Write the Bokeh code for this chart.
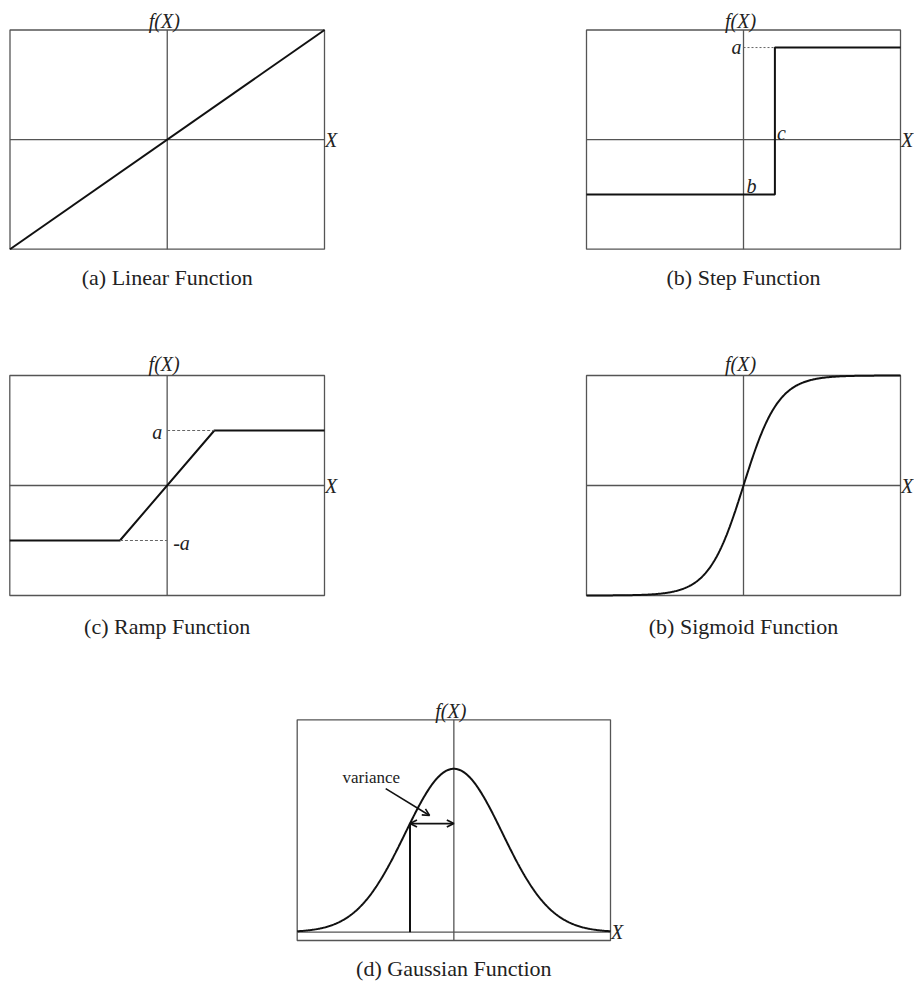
import numpy as np
from bokeh.plotting import figure
from bokeh.layouts import column, row
from bokeh.models import Range1d, Arrow, OpenHead
from bokeh.core.properties import value
from bokeh.embed import file_html
from bokeh.resources import INLINE

# ---- function parameters -------------------------------------------------
linear_x = [-1.0, 1.0]
linear_y = [-1.0, 1.0]

step_c = 0.2          # threshold position
step_a = 0.84         # upper level
step_b = -0.5         # lower level

ramp_a = 0.5          # saturation level
ramp_x = [-1.0, -0.3, 0.3, 1.0]
ramp_y = [-0.5, -0.5, 0.5, 0.5]

sigmoid_k = 4.5       # steepness of the tanh-shaped sigmoid

gauss_sigma = 0.31
variance_x = -0.28    # position of the marked spread

captions = ["(a) Linear Function", "(b) Step Function", "(c) Ramp Function",
            "(b) Sigmoid Function", "(d) Gaussian Function"]

SERIF = value("Liberation Serif")
FRAME = "#555555"
CURVE = "#111111"
INK = "#222222"


def panel(W, H, box, xlim, ylim):
    """Figure whose frame fills the canvas; box (l, t, r, b) in pixels maps to xlim/ylim."""
    l, t, r, b = box
    sx = (r - l) / (xlim[1] - xlim[0])
    sy = (b - t) / (ylim[1] - ylim[0])
    x0 = xlim[0] - l / sx
    y1 = ylim[1] + t / sy
    p = figure(width=W, height=H, output_backend="svg", toolbar_location=None,
               x_range=Range1d(x0, x0 + W / sx), y_range=Range1d(y1 - H / sy, y1),
               min_border=0, outline_line_color=None)
    p.axis.visible = False
    p.grid.visible = False
    p.background_fill_color = "white"
    p.border_fill_color = "white"
    p.quad(left=[xlim[0]], right=[xlim[1]], bottom=[ylim[0]], top=[ylim[1]],
           fill_color=None, line_color=FRAME, line_width=1.3)
    p.segment(x0=[0], y0=[ylim[0]], x1=[0], y1=[ylim[1]], line_color=FRAME, line_width=1.3)
    p.segment(x0=[xlim[0]], y0=[0], x1=[xlim[1]], y1=[0], line_color=FRAME, line_width=1.3)
    p._sx, p._sy, p._xlim, p._ylim = sx, sy, xlim, ylim
    return p


def labels(p, caption, cap_gap, fx_gap):
    sx, sy, xlim, ylim = p._sx, p._sy, p._xlim, p._ylim
    p.text(x=[-3 / sx], y=[ylim[1] + fx_gap / sy], text=["f(X)"], text_font=SERIF,
           text_font_style="italic", text_font_size="20px", text_align="center",
           text_baseline="middle", text_color=INK)
    p.text(x=[xlim[1] + 0.5 / sx], y=[0], text=["X"], text_font=SERIF,
           text_font_style="italic", text_font_size="20px", text_align="left",
           text_baseline="middle", text_color=INK)
    p.text(x=[(xlim[0] + xlim[1]) / 2], y=[ylim[0] - cap_gap / sy], text=[caption],
           text_font=SERIF, text_font_size="22px", text_align="center",
           text_baseline="middle", text_color=INK)


def note(p, x, y, txt, align, dx=0, dy=0, size="20px", style="italic"):
    p.text(x=[x + dx / p._sx], y=[y + dy / p._sy], text=[txt], text_font=SERIF,
           text_font_style=style, text_font_size=size, text_align=align,
           text_baseline="middle", text_color=INK)


# ---- (a) linear ----------------------------------------------------------
pa = panel(457, 330, (9.5, 29.5, 324, 248.7), (-1, 1), (-1, 1))
pa.line(linear_x, linear_y, line_color=CURVE, line_width=2)
labels(pa, captions[0], 28, 9.5)

# ---- (b) step ------------------------------------------------------------
pb = panel(457, 330, (129, 29.5, 443, 248.7), (-1, 1), (-1, 1))
pb.line([-1, step_c, step_c, 1], [step_b, step_b, step_a, step_a],
        line_color=CURVE, line_width=2)
pb.line([0, step_c], [step_a, step_a], line_color="#666666", line_width=1, line_dash="2 2")
note(pb, 0, step_a, "a", "right", dx=-2, dy=1)
note(pb, step_c, 0, "c", "left", dx=2, dy=7)
note(pb, 0, step_b, "b", "left", dx=3, dy=8)
labels(pb, captions[1], 28, 9.5)

# ---- (c) ramp ------------------------------------------------------------
pc = panel(457, 345, (9.3, 45, 324, 265), (-1, 1), (-1, 1))
pc.line(ramp_x, ramp_y, line_color=CURVE, line_width=2)
pc.line([0, ramp_x[2]], [ramp_a, ramp_a], line_color="#666666", line_width=1, line_dash="3 2")
pc.line([ramp_x[1], 0], [-ramp_a, -ramp_a], line_color="#666666", line_width=1, line_dash="3 2")
note(pc, 0, ramp_a, "a", "right", dx=-5, dy=-1)
note(pc, 0, -ramp_a, "-a", "left", dx=6, dy=-2)
labels(pc, captions[2], 31, 11.5)

# ---- sigmoid -------------------------------------------------------------
pd = panel(457, 345, (129, 45, 443, 265), (-1, 1), (-1, 1))
xs = np.linspace(-1, 1, 400)
pd.line(xs, np.tanh(sigmoid_k * xs), line_color=CURVE, line_width=2)
labels(pd, captions[3], 31, 11.5)

# ---- (d) gaussian --------------------------------------------------------
pe = panel(914, 308, (296.7, 44.3, 610, 265), (-1, 1), (-0.051, 1.3))
gy = np.exp(-xs ** 2 / (2 * gauss_sigma ** 2))
pe.line(xs, gy, line_color=CURVE, line_width=2)
vy = float(np.exp(-variance_x ** 2 / (2 * gauss_sigma ** 2)))
pe.segment(x0=[variance_x], y0=[0], x1=[variance_x], y1=[vy], line_color=CURVE, line_width=2)
pe.add_layout(Arrow(start=OpenHead(size=7, line_width=1.8, line_color=CURVE),
                    end=OpenHead(size=7, line_width=1.8, line_color=CURVE),
                    x_start=variance_x, y_start=vy, x_end=0, y_end=vy,
                    line_color=CURVE, line_width=1.8))
pe.add_layout(Arrow(end=OpenHead(size=7, line_width=1.6, line_color=CURVE),
                    x_start=-0.435, y_start=0.879, x_end=-0.155, y_end=0.714,
                    line_color=CURVE, line_width=1.6))
note(pe, -0.711, 0.947, "variance", "left", size="17px", style="normal")
labels(pe, captions[4], 27.5, 8.6)

layout = column(row(pa, pb), row(pc, pd), pe)
open("out.html", "w").write(file_html(layout, INLINE))
